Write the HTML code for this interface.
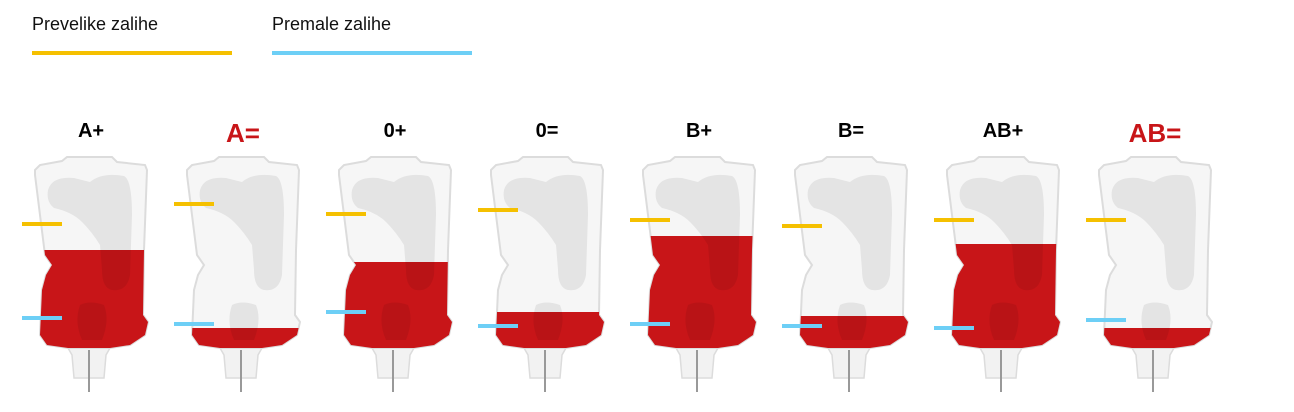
<!DOCTYPE html>
<html><head><meta charset="utf-8"><style>
body{margin:0;width:1294px;height:412px;background:#fff;overflow:hidden;font-family:"Liberation Sans",sans-serif}
</style></head><body>
<svg width="1294" height="412" xmlns="http://www.w3.org/2000/svg" style="position:absolute;left:0;top:0">
<defs>
<path id="body" d="M3,170 L8,165 L30,161 L35,157 L80,157 L85,162 L113,165 L115,170 L112,250 L111,315 L116,322 L113,335 L98,345 L78,348 L36,348 L15,345 L8,335 L10,290 L14,275 L20,265 L13,255 L3,175 Z"/>
<clipPath id="cp"><use href="#body"/></clipPath>
<g id="inner">
<path d="M16,190 Q20,176 42,178 L58,182 Q70,172 92,176 Q100,180 100,215 L98,275 Q95,292 80,290 Q70,288 70,270 L68,245 Q60,232 50,222 Q40,212 22,208 Q14,202 16,190 Z" fill="#000" opacity="0.07"/>
<path d="M48,305 Q58,300 72,305 Q78,320 70,340 L50,340 Q42,322 48,305 Z" fill="#000" opacity="0.07"/>
<line x1="57" y1="350" x2="57" y2="392" stroke="#999" stroke-width="2"/>
</g>
<g id="neck"><path d="M36,348 L78,348 L74,355 L72,378 L42,378 L40,355 Z" fill="#f2f2f2" stroke="#dcdcdc" stroke-width="1.5"/></g>
</defs>
<text x="32" y="30" font-size="18" fill="#111">Prevelike zalihe</text>
<rect x="32" y="51" width="200" height="4" fill="#f5c000"/>
<text x="272" y="30" font-size="18" fill="#111">Premale zalihe</text>
<rect x="272" y="51" width="200" height="4" fill="#6dcff6"/>
<g font-weight="bold" text-anchor="middle">
<text x="91" y="137" font-size="20" fill="#000">A+</text>
<text x="243" y="142" font-size="26" fill="#c81518">A=</text>
<text x="395" y="137" font-size="20" fill="#000">0+</text>
<text x="547" y="137" font-size="20" fill="#000">0=</text>
<text x="699" y="137" font-size="20" fill="#000">B+</text>
<text x="851" y="137" font-size="20" fill="#000">B=</text>
<text x="1003" y="137" font-size="20" fill="#000">AB+</text>
<text x="1155" y="142" font-size="26" fill="#c81518">AB=</text>
</g>
<g transform="translate(32,0)"><use href="#neck"/><use href="#body" fill="#f6f6f6" stroke="#dcdcdc" stroke-width="2"/><rect x="0" y="250" width="120" height="110" fill="#c81518" clip-path="url(#cp)"/><use href="#inner"/></g>
<g transform="translate(184,0)"><use href="#neck"/><use href="#body" fill="#f6f6f6" stroke="#dcdcdc" stroke-width="2"/><rect x="0" y="328" width="120" height="30" fill="#c81518" clip-path="url(#cp)"/><use href="#inner"/></g>
<g transform="translate(336,0)"><use href="#neck"/><use href="#body" fill="#f6f6f6" stroke="#dcdcdc" stroke-width="2"/><rect x="0" y="262" width="120" height="100" fill="#c81518" clip-path="url(#cp)"/><use href="#inner"/></g>
<g transform="translate(488,0)"><use href="#neck"/><use href="#body" fill="#f6f6f6" stroke="#dcdcdc" stroke-width="2"/><rect x="0" y="312" width="120" height="50" fill="#c81518" clip-path="url(#cp)"/><use href="#inner"/></g>
<g transform="translate(640,0)"><use href="#neck"/><use href="#body" fill="#f6f6f6" stroke="#dcdcdc" stroke-width="2"/><rect x="0" y="236" width="120" height="130" fill="#c81518" clip-path="url(#cp)"/><use href="#inner"/></g>
<g transform="translate(792,0)"><use href="#neck"/><use href="#body" fill="#f6f6f6" stroke="#dcdcdc" stroke-width="2"/><rect x="0" y="316" width="120" height="50" fill="#c81518" clip-path="url(#cp)"/><use href="#inner"/></g>
<g transform="translate(944,0)"><use href="#neck"/><use href="#body" fill="#f6f6f6" stroke="#dcdcdc" stroke-width="2"/><rect x="0" y="244" width="120" height="120" fill="#c81518" clip-path="url(#cp)"/><use href="#inner"/></g>
<g transform="translate(1096,0)"><use href="#neck"/><use href="#body" fill="#f6f6f6" stroke="#dcdcdc" stroke-width="2"/><rect x="0" y="328" width="120" height="30" fill="#c81518" clip-path="url(#cp)"/><use href="#inner"/></g>
<g fill="#f5c000">
<rect x="22" y="222" width="40" height="4"/><rect x="174" y="202" width="40" height="4"/><rect x="326" y="212" width="40" height="4"/><rect x="478" y="208" width="40" height="4"/>
<rect x="630" y="218" width="40" height="4"/><rect x="782" y="224" width="40" height="4"/><rect x="934" y="218" width="40" height="4"/><rect x="1086" y="218" width="40" height="4"/>
</g>
<g fill="#6dcff6">
<rect x="22" y="316" width="40" height="4"/><rect x="174" y="322" width="40" height="4"/><rect x="326" y="310" width="40" height="4"/><rect x="478" y="324" width="40" height="4"/>
<rect x="630" y="322" width="40" height="4"/><rect x="782" y="324" width="40" height="4"/><rect x="934" y="326" width="40" height="4"/><rect x="1086" y="318" width="40" height="4"/>
</g>
</svg>
</body></html>
